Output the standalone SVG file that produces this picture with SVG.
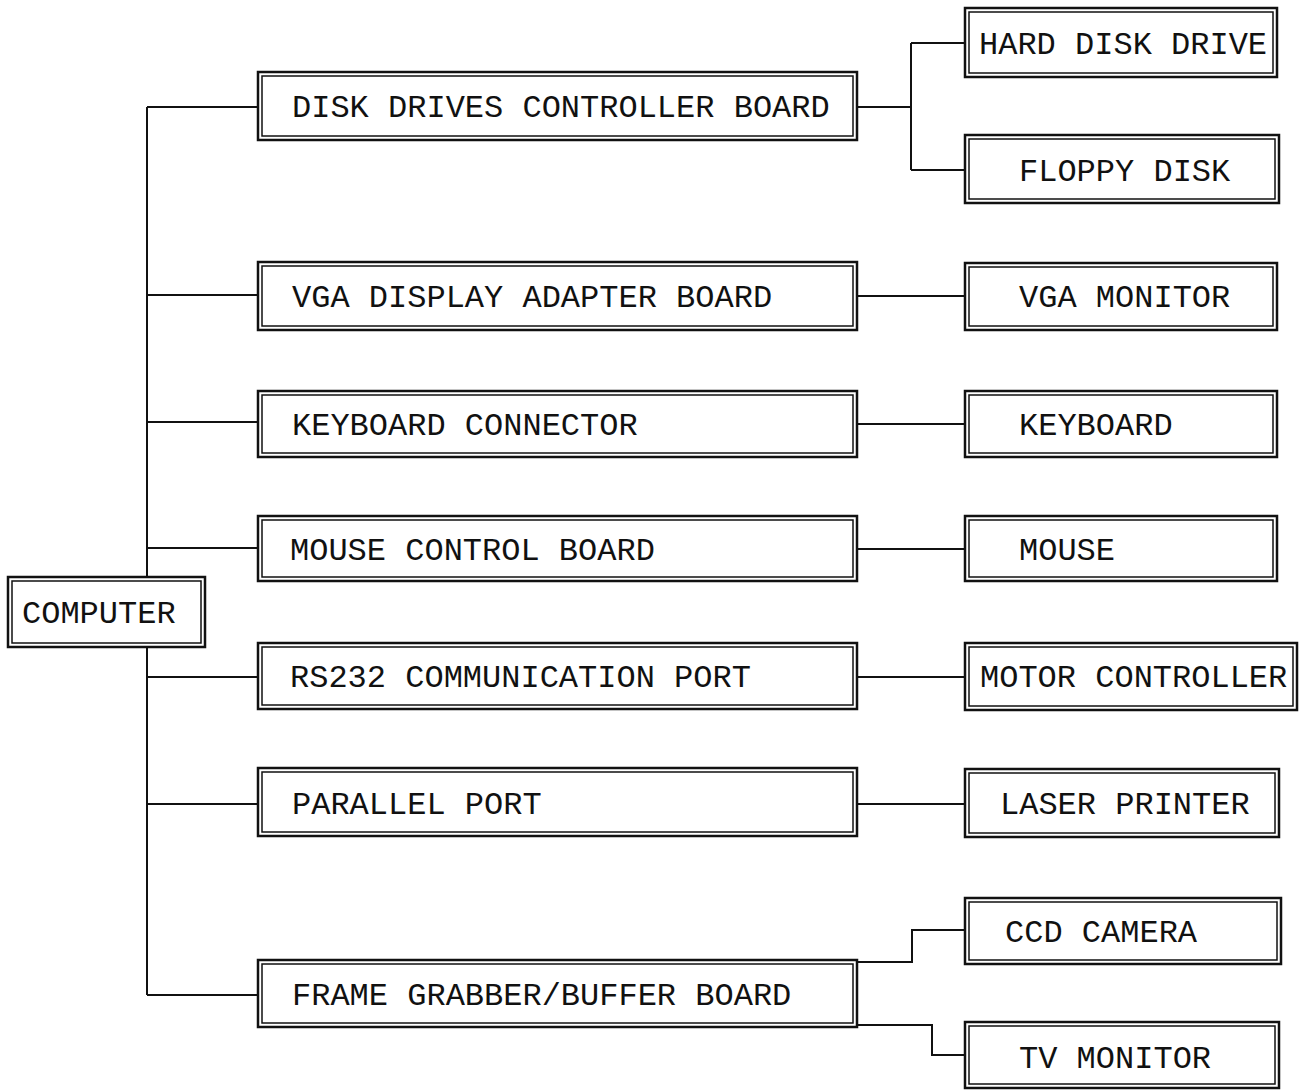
<svg xmlns="http://www.w3.org/2000/svg" width="1299" height="1090" viewBox="0 0 1299 1090">
<style>
.o{fill:#fff;stroke:#111;stroke-width:2.5}
.i{fill:none;stroke:#111;stroke-width:1.5}
.t{font-family:"Liberation Mono","Courier New",monospace;font-size:32px;fill:#111}
.c{fill:none;stroke:#111;stroke-width:2}
</style>
<rect width="1299" height="1090" fill="#fff"/>
<g id="connectors">
<path class="c" d="M147,107V577M147,647V995M147,107H258M147,295H258M147,422H258M147,548H258M147,677H258M147,804H258M147,995H258"/>
<path class="c" d="M857,107H911M911,43V170M911,43H965M911,170H965"/>
<path class="c" d="M857,296H965M857,424H965M857,549H965M857,677H965M857,804H965"/>
<path class="c" d="M857,962H912V930H965M857,1025H932V1055H965"/>
</g>
<g id="computer"><rect class="o" x="8" y="577" width="197" height="70"/><rect class="i" x="12" y="581" width="189" height="62"/><text class="t" x="22" y="623">COMPUTER</text></g>
<g id="disk-ctrl"><rect class="o" x="258" y="72" width="599" height="68"/><rect class="i" x="262" y="76" width="591" height="60"/><text class="t" x="292" y="117">DISK DRIVES CONTROLLER BOARD</text></g>
<g id="vga-board"><rect class="o" x="258" y="262" width="599" height="68"/><rect class="i" x="262" y="266" width="591" height="60"/><text class="t" x="292" y="307">VGA DISPLAY ADAPTER BOARD</text></g>
<g id="kbd-conn"><rect class="o" x="258" y="391" width="599" height="66"/><rect class="i" x="262" y="395" width="591" height="58"/><text class="t" x="292" y="435">KEYBOARD CONNECTOR</text></g>
<g id="mouse-board"><rect class="o" x="258" y="516" width="599" height="65"/><rect class="i" x="262" y="520" width="591" height="57"/><text class="t" x="290" y="560">MOUSE CONTROL BOARD</text></g>
<g id="rs232"><rect class="o" x="258" y="643" width="599" height="66"/><rect class="i" x="262" y="647" width="591" height="58"/><text class="t" x="290" y="687">RS232 COMMUNICATION PORT</text></g>
<g id="parallel"><rect class="o" x="258" y="768" width="599" height="68"/><rect class="i" x="262" y="772" width="591" height="60"/><text class="t" x="292" y="814">PARALLEL PORT</text></g>
<g id="frame"><rect class="o" x="258" y="960" width="599" height="67"/><rect class="i" x="262" y="964" width="591" height="59"/><text class="t" x="292" y="1005">FRAME GRABBER/BUFFER BOARD</text></g>
<g id="hdd"><rect class="o" x="965" y="8" width="312" height="69"/><rect class="i" x="969" y="12" width="304" height="61"/><text class="t" x="979" y="54">HARD DISK DRIVE</text></g>
<g id="floppy"><rect class="o" x="965" y="135" width="314" height="68"/><rect class="i" x="969" y="139" width="306" height="60"/><text class="t" x="1019" y="181">FLOPPY DISK</text></g>
<g id="vga-mon"><rect class="o" x="965" y="263" width="312" height="67"/><rect class="i" x="969" y="267" width="304" height="59"/><text class="t" x="1019" y="307">VGA MONITOR</text></g>
<g id="keyboard"><rect class="o" x="965" y="391" width="312" height="66"/><rect class="i" x="969" y="395" width="304" height="58"/><text class="t" x="1019" y="435">KEYBOARD</text></g>
<g id="mouse"><rect class="o" x="965" y="516" width="312" height="65"/><rect class="i" x="969" y="520" width="304" height="57"/><text class="t" x="1019" y="560">MOUSE</text></g>
<g id="motor"><rect class="o" x="965" y="643" width="332" height="67"/><rect class="i" x="969" y="647" width="324" height="59"/><text class="t" x="980" y="687">MOTOR CONTROLLER</text></g>
<g id="laser"><rect class="o" x="965" y="769" width="314" height="68"/><rect class="i" x="969" y="773" width="306" height="60"/><text class="t" x="1000" y="814">LASER PRINTER</text></g>
<g id="ccd"><rect class="o" x="965" y="898" width="316" height="66"/><rect class="i" x="969" y="902" width="308" height="58"/><text class="t" x="1005" y="942">CCD CAMERA</text></g>
<g id="tv"><rect class="o" x="965" y="1022" width="314" height="66"/><rect class="i" x="969" y="1026" width="306" height="58"/><text class="t" x="1019" y="1068">TV MONITOR</text></g>
</svg>
